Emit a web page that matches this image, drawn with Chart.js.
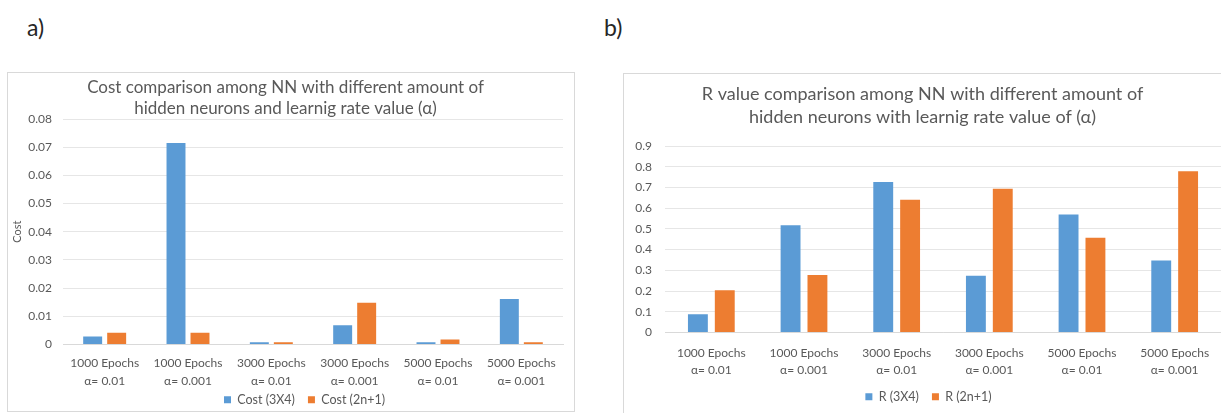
<!DOCTYPE html>
<html>
<head>
<meta charset="utf-8">
<script src="https://cdn.jsdelivr.net/npm/chart.js@4.4.0/dist/chart.umd.min.js"></script>
<style>
body { margin:0; background:#fff; width:1221px; height:413px; overflow:hidden; position:relative; font-family: Lato, sans-serif; }
.etiqueta { position:absolute; font-size:23px; color:#262626; }
.caja { position:absolute; border:1px solid #d9d9d9; background:#fff; }
canvas { display:block; }
</style>
</head>
<body>
<div class="etiqueta" style="left:27px;top:13px">a)</div>
<div class="etiqueta" style="left:604px;top:13px">b)</div>
<div class="caja" style="left:7px;top:72px;width:566px;height:338px"><canvas id="graficoCosto" width="566" height="343"></canvas></div>
<div class="caja" style="left:623px;top:73px;width:610px;height:345px"><canvas id="graficoR" width="610" height="339"></canvas></div>

<script>
// datos
var categorias = [
	['1000 Epochs', 'α= 0.01'],
	['1000 Epochs', 'α= 0.001'],
	['3000 Epochs', 'α= 0.01'],
	['3000 Epochs', 'α= 0.001'],
	['5000 Epochs', 'α= 0.01'],
	['5000 Epochs', 'α= 0.001']
];
var costo3x4 = [0.0028, 0.0715, 0.0008, 0.0068, 0.0008, 0.0161];
var costo2n1 = [0.0042, 0.0042, 0.0008, 0.0148, 0.0018, 0.0008];
var r3x4 = [0.088, 0.518, 0.726, 0.274, 0.569, 0.348];
var r2n1 = [0.204, 0.277, 0.641, 0.694, 0.457, 0.778];
var ticksCosto = [0, 0.01, 0.02, 0.03, 0.04, 0.05, 0.06, 0.07, 0.08];
var ticksR = [0, 0.1, 0.2, 0.3, 0.4, 0.5, 0.6, 0.7, 0.8, 0.9];

var azul = '#5b9bd5';
var naranjo = '#ed7d31';
var gris = '#595959';
var fuente = 'Lato, sans-serif';

// el eje x se achica para subir la leyenda, pero sin recortar las etiquetas
// y la leyenda se corre un poco a la derecha como en el original
var ajustes = {
	id: 'ajustes',
	afterLayout: function(chart){
		chart.scales.x.bottom = chart.height;
		var corrida = chart.options.plugins.legend.corrida || 0;
		chart.legend.left += corrida;
		chart.legend.right += corrida;
	}
};

function crearGrafico(id, titulo, serieA, serieB, nombreA, nombreB, marcas, cfg){
	var ctx = document.getElementById(id);
	var ejeY = {
		min: 0,
		max: marcas[marcas.length - 1],
		afterBuildTicks: function(s){
			s.ticks = marcas.map(function(v){ return {value: v}; });
		},
		afterFit: function(s){ s.width = cfg.anchoY; },
		grid: { color: '#e6e6e6', drawTicks: false },
		border: { display: false },
		ticks: {
			color: gris,
			padding: cfg.padY,
			font: { family: fuente, size: 12 },
			callback: function(v){ return String(v); }
		}
	};
	if (cfg.tituloY) {
		ejeY.title = { display: true, text: cfg.tituloY, color: gris, padding: 0,
			font: { family: fuente, size: 11, lineHeight: '18px' } };
	}
	return new Chart(ctx, {
		type: 'bar',
		data: {
			labels: categorias,
			datasets: [
				{ label: nombreA, data: serieA, backgroundColor: azul,
				  categoryPercentage: cfg.catPct, barPercentage: cfg.barPct },
				{ label: nombreB, data: serieB, backgroundColor: naranjo,
				  categoryPercentage: cfg.catPct, barPercentage: cfg.barPct }
			]
		},
		plugins: [ajustes],
		options: {
			responsive: false,
			animation: false,
			devicePixelRatio: 1,
			layout: { padding: { left: 0, right: cfg.padDer, top: 0, bottom: 0 } },
			plugins: {
				title: {
					display: true,
					text: titulo,
					color: gris,
					padding: { top: cfg.tituloArriba, bottom: cfg.tituloAbajo },
					font: { family: fuente, size: cfg.tamTitulo, weight: 'normal', lineHeight: cfg.altoLinea }
				},
				legend: {
					position: 'bottom',
					corrida: cfg.corrida,
					labels: {
						color: gris,
						boxWidth: 7,
						boxHeight: 7,
						padding: 13,
						font: { family: fuente, size: 12.5 }
					}
				},
				tooltip: { enabled: false }
			},
			scales: {
				x: {
					afterFit: function(s){ s.height = cfg.altoX; },
					grid: { display: false, drawTicks: false },
					border: { color: '#d9d9d9' },
					ticks: {
						color: gris,
						padding: cfg.padX,
						maxRotation: 0,
						autoSkip: false,
						font: { family: fuente, size: 12, lineHeight: cfg.lineaX }
					}
				},
				y: ejeY
			}
		}
	});
}

// a) costo
crearGrafico('graficoCosto',
	['Cost comparison among NN with different amount of', 'hidden neurons and learnig rate value (α)'],
	costo3x4, costo2n1, 'Cost (3X4)', 'Cost (2n+1)', ticksCosto,
	{ anchoY: 55, padY: 11, tituloY: 'Cost', padDer: 11, tituloArriba: 4, tituloAbajo: 0,
	  tamTitulo: 17, altoLinea: '21px', altoX: 36, padX: 10, lineaX: '18px', catPct: 0.576, barPct: 0.79,
	  corrida: 19 });

// b) valor R
crearGrafico('graficoR',
	['R value comparison among NN with different amount of', 'hidden neurons with learnig rate value of (α)'],
	r3x4, r2n1, 'R (3X4)', 'R (2n+1)', ticksR,
	{ anchoY: 41, padY: 13, tituloY: null, padDer: 13, tituloArriba: 9, tituloAbajo: 17,
	  tamTitulo: 18, altoLinea: '23px', altoX: 45, padX: 12, lineaX: '17px', catPct: 0.58, barPct: 0.74,
	  corrida: 6 });
</script>
</body>
</html>
